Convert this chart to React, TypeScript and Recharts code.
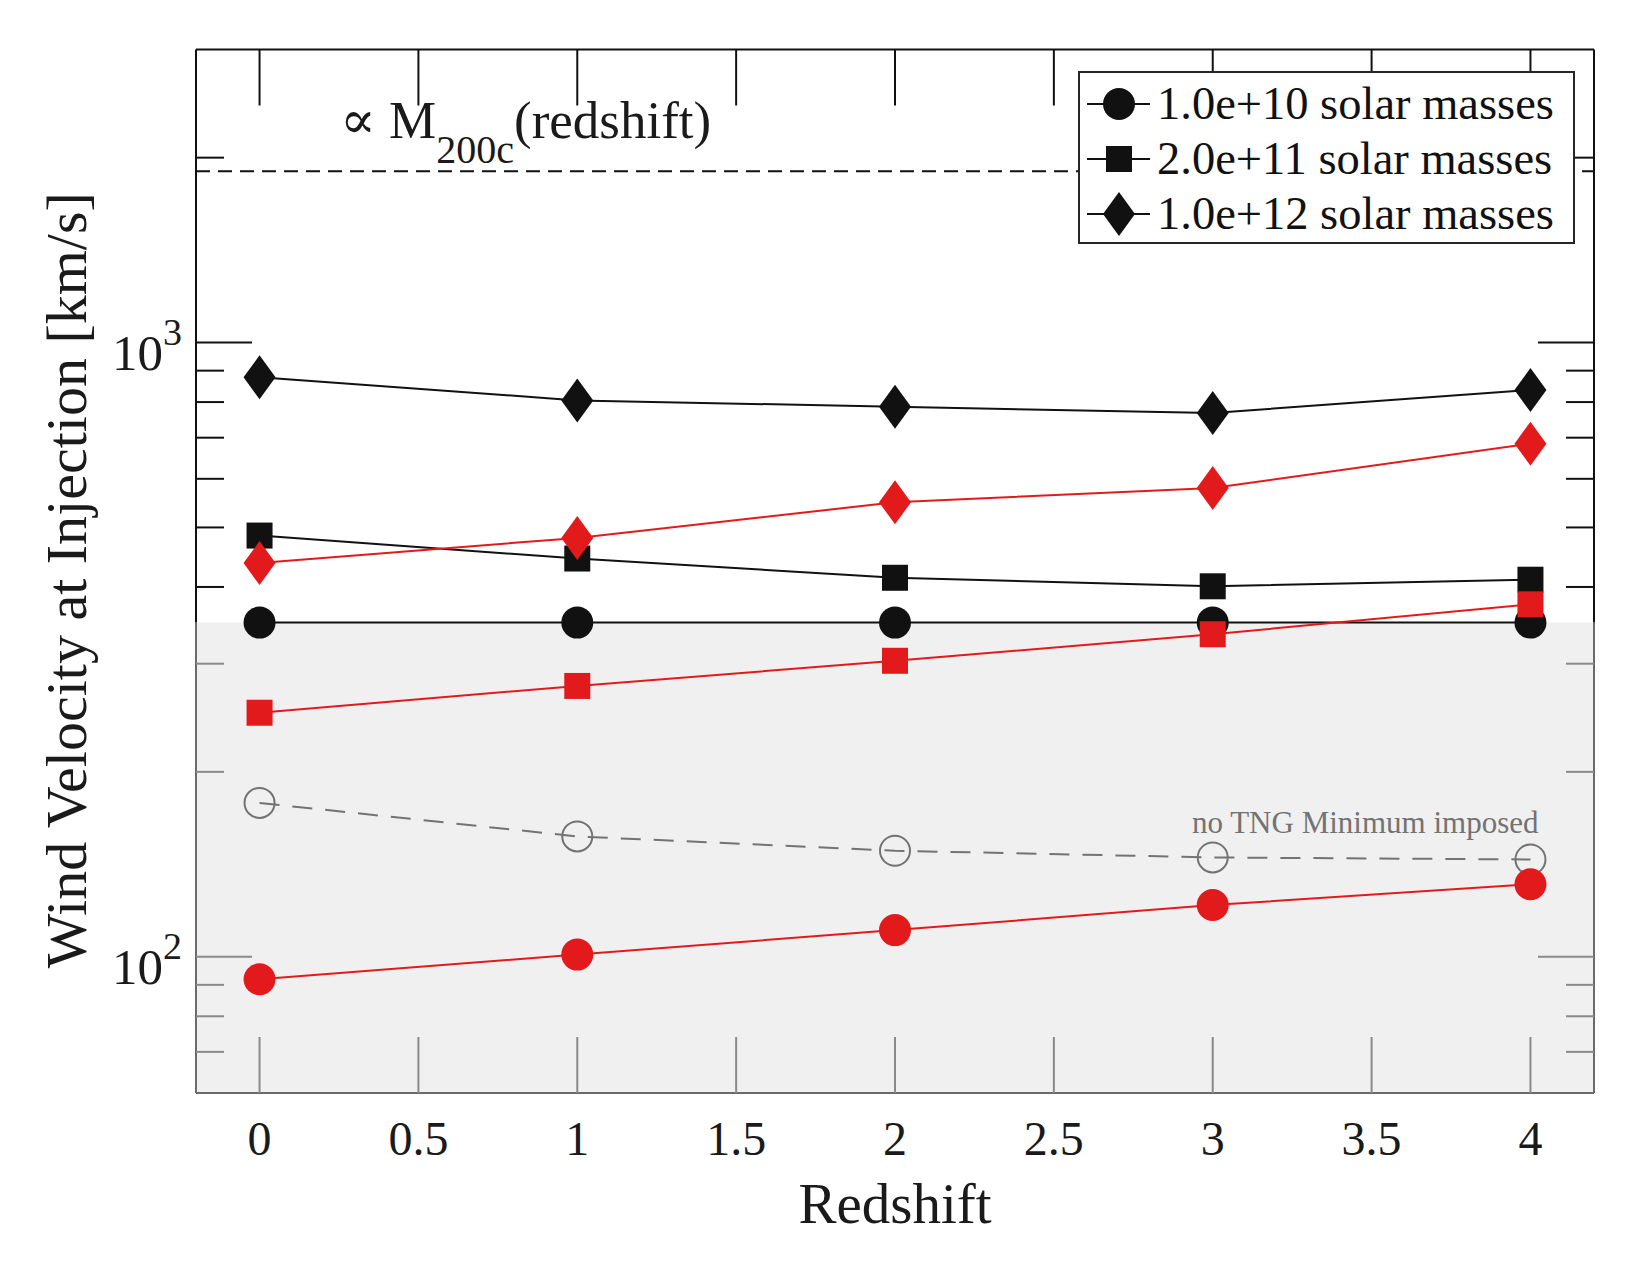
import React from 'react';
import { LineChart, Line, XAxis, YAxis, ReferenceArea, ReferenceLine, Legend, LabelList } from 'recharts';

// redshifts the halos were evaluated at
const redshift = [0, 1, 2, 3, 4];

// wind velocity at injection [km/s], TNG scheme with its 350 km/s floor (black)
const tngM10 = [350, 350, 350, 350, 350];
const tngM11 = [485, 445, 414, 401, 411];
const tngM12 = [878, 805, 786, 768, 837];

// same halo masses, alternative scaling (red)
const altM10 = [91.9, 100.8, 110.5, 121.4, 131.2];
const altM11 = [249.6, 276, 303.3, 335, 374.8];
const altM12 = [437.5, 480.8, 549.4, 579.7, 684.3];

// 1e10 halo with the floor switched off
const tngM10NoFloor = [178, 157, 148.8, 145.1, 144];

const massLabels = ['1.0e+10 solar masses', '2.0e+11 solar masses', '1.0e+12 solar masses'];
const xTicks = [0, 0.5, 1, 1.5, 2, 2.5, 3, 3.5, 4];
const yTicks = [70, 80, 90, 100, 200, 300, 400, 500, 600, 700, 800, 900, 1000, 2000];
const yDecades = [100, 1000];
const xDomain: [number, number] = [-0.2, 4.2];
const yDomain: [number, number] = [60, 3000];
const tngFloor = 350;
const m200cLevel = 1900;

const rows = redshift.map((z, i) => ({
  z,
  tngM10: tngM10[i],
  tngM11: tngM11[i],
  tngM12: tngM12[i],
  altM10: altM10[i],
  altM11: altM11[i],
  altM12: altM12[i],
  tngM10NoFloor: tngM10NoFloor[i],
}));

const SERIF = '"Liberation Serif", "Times New Roman", "DejaVu Serif", serif';
const INK = '#111111';
const TEXT = '#1a1a1a';
const RED = '#e31a1c';
const GREY = '#737373';
const SHADE = '#f0f0f0';
const TICK_IN_SHADE = '#8a8a8a';
const EDGE_IN_SHADE = '#6a6a6a';
const MAJOR = 56;
const MINOR = 28;

type MarkerKind = 'circle' | 'square' | 'diamond' | 'ring';

const Marker = ({ kind, cx, cy, color }: { kind: MarkerKind; cx: number; cy: number; color: string }) => {
  switch (kind) {
    case 'circle':
      return <circle cx={cx} cy={cy} r={16} fill={color} />;
    case 'square':
      return <rect x={cx - 13} y={cy - 13} width={26} height={26} fill={color} />;
    case 'diamond':
      return <polygon points={`${cx},${cy - 22} ${cx + 16},${cy} ${cx},${cy + 22} ${cx - 16},${cy}`} fill={color} />;
    default:
      return <circle cx={cx} cy={cy} r={15} fill="none" stroke={color} strokeWidth={2} />;
  }
};

const dotOf = (kind: MarkerKind, color: string) => (props: any) => (
  <Marker key={`${kind}-${color}-${props.index}`} kind={kind} cx={props.cx} cy={props.cy} color={color} />
);

const BottomTick = ({ x, y, payload }: any) => (
  <g>
    <line x1={x} x2={x} y1={y} y2={y - MAJOR} stroke={TICK_IN_SHADE} strokeWidth={2} />
    <text x={x} y={y + 62} textAnchor="middle" fontFamily={SERIF} fontSize={48} fill={TEXT}>
      {payload.value}
    </text>
  </g>
);

const TopTick = ({ x, y }: any) => <line x1={x} x2={x} y1={y} y2={y + MAJOR} stroke={INK} strokeWidth={2} />;

const tickColor = (v: number) => (v < tngFloor ? TICK_IN_SHADE : INK);
const tickLen = (v: number) => (yDecades.includes(v) ? MAJOR : MINOR);

const LeftTick = ({ x, y, payload }: any) => {
  const v = payload.value;
  return (
    <g>
      <line x1={x} x2={x + tickLen(v)} y1={y} y2={y} stroke={tickColor(v)} strokeWidth={2} />
      {yDecades.includes(v) && (
        <text x={x - 14} y={y + 27} textAnchor="end" fontFamily={SERIF} fontSize={51} fill={TEXT}>
          10
          <tspan dy={-25} fontSize={38}>
            {Math.round(Math.log10(v))}
          </tspan>
        </text>
      )}
    </g>
  );
};

const RightTick = ({ x, y, payload }: any) => {
  const v = payload.value;
  return <line x1={x} x2={x - tickLen(v)} y1={y} y2={y} stroke={tickColor(v)} strokeWidth={2} />;
};

const XTitle = ({ viewBox }: any) => (
  <text x={viewBox.x + viewBox.width / 2} y={viewBox.y + 130} textAnchor="middle" fontFamily={SERIF} fontSize={57} fill={TEXT}>
    Redshift
  </text>
);

const YTitle = ({ viewBox }: any) => {
  const cx = viewBox.x + 40;
  const cy = viewBox.y + viewBox.height / 2 + 9;
  return (
    <text x={cx} y={cy} transform={`rotate(-90 ${cx} ${cy})`} textAnchor="middle" fontFamily={SERIF} fontSize={58} fill={TEXT}>
      Wind Velocity at Injection [km/s]
    </text>
  );
};

const M200cNote = ({ viewBox }: any) => (
  <text x={viewBox.x + 144} y={viewBox.y - 33} fontFamily={SERIF} fontSize={53} fill={TEXT}>
    ∝ M
    <tspan dy={25} fontSize={40}>
      200c
    </tspan>
    <tspan dy={-25}>(redshift)</tspan>
  </text>
);

const NoFloorNote = (props: any) => {
  if (props.index !== redshift.length - 1) return null;
  const x = props.viewBox?.x ?? props.x;
  const y = props.viewBox?.y ?? props.y;
  return (
    <text x={x + 8} y={y - 26} textAnchor="end" fontFamily={SERIF} fontSize={31} fill={GREY}>
      no TNG Minimum imposed
    </text>
  );
};

const legendKinds: MarkerKind[] = ['circle', 'square', 'diamond'];

const MassLegend = () => (
  <div style={{ width: 497, height: 173, boxSizing: 'border-box', border: '2px solid #262626', background: '#fff' }}>
    <svg width={493} height={169} style={{ display: 'block' }}>
      {massLabels.map((label, i) => {
        const cy = 31 + i * 55;
        return (
          <g key={label}>
            <line x1={7} x2={70} y1={cy} y2={cy} stroke={INK} strokeWidth={2} />
            <Marker kind={legendKinds[i]} cx={39} cy={cy} color={INK} />
            <text x={77} y={cy + 15} fontFamily={SERIF} fontSize={46.5} fill={INK}>
              {label}
            </text>
          </g>
        );
      })}
    </svg>
  </div>
);

export default function App() {
  return (
    <div style={{ position: 'absolute', left: 0, top: 0, width: 1650, height: 1275, background: '#fff' }}>
      <LineChart width={1650} height={1275} data={rows} margin={{ top: 48.5, right: 55, bottom: 82, left: 46 }}>
        <ReferenceArea y1={yDomain[0]} y2={tngFloor} fill={SHADE} fillOpacity={1} stroke="none" ifOverflow="visible" />

        <XAxis
          dataKey="z"
          type="number"
          domain={xDomain}
          allowDataOverflow
          ticks={xTicks}
          interval={0}
          height={100}
          tickSize={0}
          tickMargin={0}
          tickLine={false}
          axisLine={{ stroke: EDGE_IN_SHADE, strokeWidth: 2 }}
          tick={BottomTick}
          label={<XTitle />}
        />
        <XAxis
          xAxisId="top"
          dataKey="z"
          orientation="top"
          type="number"
          domain={xDomain}
          allowDataOverflow
          ticks={xTicks}
          interval={0}
          height={1}
          tickSize={0}
          tickMargin={0}
          tickLine={false}
          axisLine={{ stroke: INK, strokeWidth: 2 }}
          tick={TopTick}
        />
        <YAxis
          type="number"
          scale="log"
          domain={yDomain}
          allowDataOverflow
          ticks={yTicks}
          interval={0}
          width={150}
          tickSize={0}
          tickMargin={0}
          tickLine={false}
          axisLine={false}
          tick={LeftTick}
          label={<YTitle />}
        />
        <YAxis
          yAxisId="right"
          orientation="right"
          type="number"
          scale="log"
          domain={yDomain}
          allowDataOverflow
          ticks={yTicks}
          interval={0}
          width={1}
          tickSize={0}
          tickMargin={0}
          tickLine={false}
          axisLine={false}
          tick={RightTick}
        />

        {/* left and right frame edges, greyed where they pass through the shaded band */}
        <ReferenceLine segment={[{ x: xDomain[0], y: yDomain[0] }, { x: xDomain[0], y: tngFloor }]} stroke={EDGE_IN_SHADE} strokeWidth={2} ifOverflow="visible" />
        <ReferenceLine segment={[{ x: xDomain[0], y: tngFloor }, { x: xDomain[0], y: yDomain[1] }]} stroke={INK} strokeWidth={2} ifOverflow="visible" />
        <ReferenceLine segment={[{ x: xDomain[1], y: yDomain[0] }, { x: xDomain[1], y: tngFloor }]} stroke={EDGE_IN_SHADE} strokeWidth={2} ifOverflow="visible" />
        <ReferenceLine segment={[{ x: xDomain[1], y: tngFloor }, { x: xDomain[1], y: yDomain[1] }]} stroke={INK} strokeWidth={2} ifOverflow="visible" />

        <ReferenceLine y={m200cLevel} stroke={INK} strokeWidth={2} strokeDasharray="14 8" label={<M200cNote />} />

        <Line dataKey="tngM10" type="linear" stroke={INK} strokeWidth={2} dot={dotOf('circle', INK)} activeDot={false} isAnimationActive={false} />
        <Line dataKey="tngM11" type="linear" stroke={INK} strokeWidth={2} dot={dotOf('square', INK)} activeDot={false} isAnimationActive={false} />
        <Line dataKey="tngM12" type="linear" stroke={INK} strokeWidth={2} dot={dotOf('diamond', INK)} activeDot={false} isAnimationActive={false} />
        <Line
          dataKey="tngM10NoFloor"
          type="linear"
          stroke={GREY}
          strokeWidth={2}
          strokeDasharray="20 13"
          dot={dotOf('ring', GREY)}
          activeDot={false}
          isAnimationActive={false}
        >
          <LabelList dataKey="tngM10NoFloor" content={NoFloorNote} />
        </Line>
        <Line dataKey="altM10" type="linear" stroke={RED} strokeWidth={2} dot={dotOf('circle', RED)} activeDot={false} isAnimationActive={false} />
        <Line dataKey="altM11" type="linear" stroke={RED} strokeWidth={2} dot={dotOf('square', RED)} activeDot={false} isAnimationActive={false} />
        <Line dataKey="altM12" type="linear" stroke={RED} strokeWidth={2} dot={dotOf('diamond', RED)} activeDot={false} isAnimationActive={false} />

        <Legend
          layout="vertical"
          align="center"
          verticalAlign="middle"
          content={() => <MassLegend />}
          wrapperStyle={{ left: 1078, top: 70.5, width: 497, height: 173 }}
        />
      </LineChart>
    </div>
  );
}
